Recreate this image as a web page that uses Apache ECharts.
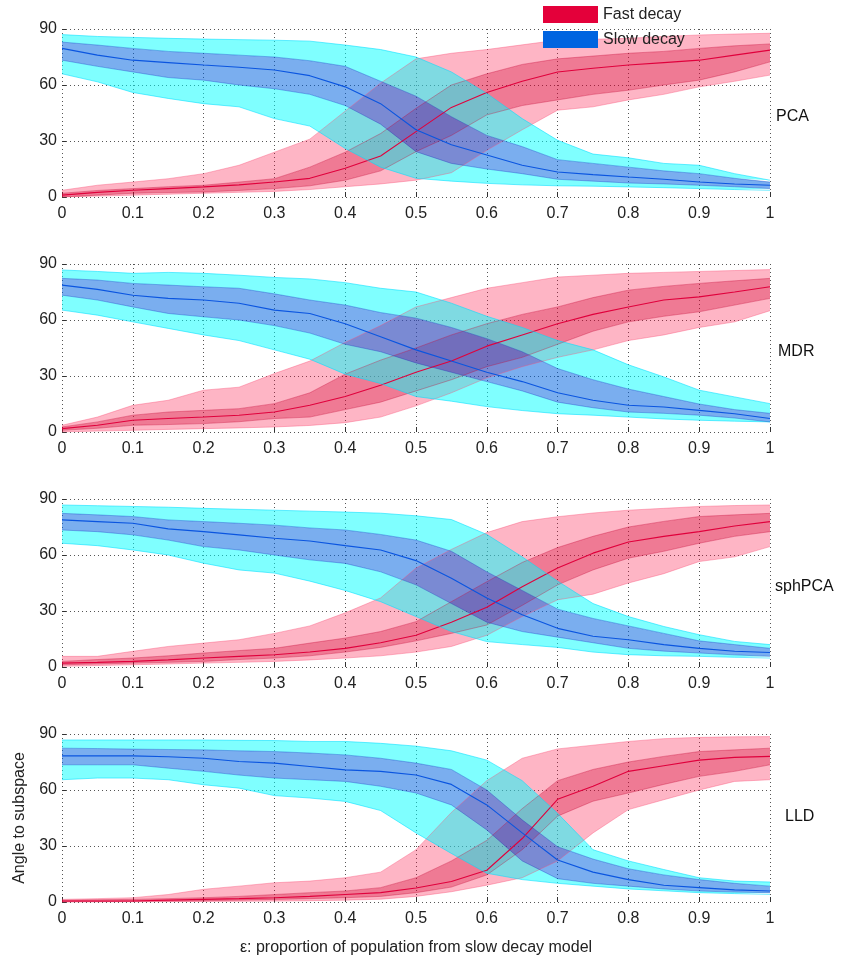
<!DOCTYPE html>
<html>
<head>
<meta charset="utf-8">
<title>Angle to subspace</title>
<script src="https://cdn.jsdelivr.net/npm/echarts@6.0.0/dist/echarts.min.js"></script>
<style>
  html, body { margin: 0; padding: 0; background: #fff; }
  #chart { width: 841px; height: 960px; }
</style>
</head>
<body>
<div id="chart"></div>
<script>
// ε: proportion of population from slow decay model
const epsilon = ['0', '0.05', '0.1', '0.15', '0.2', '0.25', '0.3', '0.35', '0.4', '0.45', '0.5',
  '0.55', '0.6', '0.65', '0.7', '0.75', '0.8', '0.85', '0.9', '0.95', '1'];
const yTicks = [0, 30, 60, 90];
const panelNames = ['PCA', 'MDR', 'sphPCA', 'LLD'];
const seriesNames = ['Fast decay', 'Slow decay'];

// PCA
const pcaFastOuterHi = [3.6, 6.3, 8, 9.8, 12.5, 17, 24, 31, 46, 61, 74, 77, 79, 81.5, 84, 84.5, 85, 86, 86.8, 87.3, 87.7];
const pcaFastInnerHi = [2, 3.5, 4.5, 5.5, 6.3, 8, 9.8, 16, 24, 34, 47.5, 60, 66, 71, 74, 75.5, 77, 78, 79.6, 81, 82];
const pcaFastMedian = [1, 2.5, 3.6, 4.5, 5.4, 6.5, 8, 10, 15.4, 22, 35, 48, 56, 62, 67, 69, 70.7, 72, 73.3, 76, 78.7];
const pcaFastInnerLo = [0, 1, 2, 2.4, 2.7, 3.5, 4.5, 6, 9, 14, 24.3, 33, 44, 49, 52, 55, 57.2, 60, 62.6, 67, 72.4];
const pcaFastOuterLo = [0, 0.5, 1, 1.5, 2, 2.5, 3, 4, 5.5, 7, 9, 13, 25, 36, 46.5, 48.3, 52, 55, 59, 62, 65.3];
const pcaSlowOuterHi = [87, 86, 85.5, 85, 84.6, 84.3, 84, 83.5, 81.4, 79, 75, 67, 55.5, 42, 30.4, 23, 21, 18, 17, 12.5, 9];
const pcaSlowInnerHi = [83, 81.4, 79.6, 78, 77, 76, 75, 73, 70, 62, 54, 43, 33, 27, 20, 18, 16, 14, 12.5, 10, 8];
const pcaSlowMedian = [79.6, 76, 73.3, 72, 70.7, 69.5, 68, 65, 59, 50, 36, 28, 22.5, 17, 13.4, 12, 10.7, 9.5, 8, 7, 6.3];
const pcaSlowInnerLo = [73.3, 70, 67, 64, 62.6, 60, 58, 55, 49, 39, 24.3, 18, 15, 12.5, 9.5, 8.5, 7.5, 7, 6.3, 5.5, 4.5];
const pcaSlowOuterLo = [66, 61.7, 56, 52.8, 50, 48.3, 42, 38, 26, 16, 10, 8.5, 7.3, 6.5, 6, 5.8, 5.4, 5, 4.5, 4, 3.6];

// MDR
const mdrFastOuterHi = [3.6, 8, 14.3, 17, 22.4, 24, 31.3, 38, 48, 57, 67, 72, 77, 80, 83, 84, 85, 85.5, 86, 86.5, 87];
const mdrFastInnerHi = [2.7, 5.4, 9, 10.7, 11.6, 12.5, 15.2, 21, 31, 38.5, 45, 52, 58, 63, 67, 72, 76, 78, 79.6, 81, 82.3];
const mdrFastMedian = [1.8, 3.6, 6.3, 7.2, 8, 9, 10.7, 14.3, 19, 25, 32, 38, 46, 52, 58, 63, 67, 70.7, 72.4, 75, 77.8];
const mdrFastInnerLo = [0.9, 2, 3.6, 4, 4.5, 5.5, 7.2, 8, 12, 16, 22, 28, 35, 40, 47, 54, 59, 62, 64.4, 68, 71.6];
const mdrFastOuterLo = [0, 0.5, 0.9, 1.4, 1.8, 2.2, 2.7, 3.5, 5, 8, 14, 21, 29, 35, 40, 44, 49, 52, 56, 59, 65];
const mdrSlowOuterHi = [86.8, 86, 85, 85.5, 85, 84, 82.8, 82, 80, 77, 75, 69, 62, 56, 49, 44, 36, 29.5, 22.4, 18.8, 15.2];
const mdrSlowInnerHi = [82.3, 81.4, 79.6, 78.7, 77.8, 77, 74, 70.7, 68, 64, 61, 56, 50, 43, 34, 28, 23, 19, 15, 12, 10];
const mdrSlowMedian = [78.7, 76.4, 73.3, 71.6, 70.7, 69, 65.3, 63.5, 58, 51, 44, 38, 32, 27, 21, 17, 14.3, 13.4, 11.6, 9.8, 7.2];
const mdrSlowInnerLo = [73.3, 70.7, 67, 63.5, 61.7, 60, 57, 53, 47, 43, 37, 32, 27, 22, 16, 13, 10.7, 10, 9, 7.5, 5.4];
const mdrSlowOuterLo = [65.3, 62.6, 59, 55.5, 52, 49, 44, 39, 31, 26, 19, 16.5, 13.6, 11.5, 9.8, 9, 8, 7, 6.3, 5.8, 5.4];

// sphPCA
const sphFastOuterHi = [5.7, 5.7, 8.4, 11, 12.8, 14.6, 18, 22, 29, 37, 53, 63, 72, 77.9, 80.5, 82.5, 84, 85, 86, 86.5, 86.8];
const sphFastInnerHi = [3, 4, 4.8, 6, 7.5, 8.8, 10, 12.8, 15.5, 19, 24.3, 35, 45.7, 56, 64, 70, 75, 78, 80.6, 81.5, 82.3];
const sphFastMedian = [2.1, 2.5, 3, 3.8, 4.8, 5.7, 6.6, 8, 10, 13, 17, 24, 32, 43, 53, 61, 67, 70, 72.5, 75.5, 77.9];
const sphFastInnerLo = [1.2, 1.6, 2.1, 2.5, 3, 4, 4.8, 6, 8, 10.5, 14, 18, 22.5, 33, 44, 52, 58.3, 62, 66.3, 70, 72.5];
const sphFastOuterLo = [0.4, 0.8, 1.2, 1.6, 2.1, 2.5, 3, 3.8, 4.8, 6, 8, 11, 17, 27, 36, 39, 45, 50, 56.5, 59, 64.5];
const sphSlowOuterHi = [86.8, 86.4, 86, 85.6, 85, 84.5, 84, 83.5, 83, 82.4, 81, 79, 71, 59, 46, 34, 27, 21.7, 17.3, 13.7, 12];
const sphSlowInnerHi = [82.3, 81.5, 80.6, 78.8, 77.9, 77, 76, 74.5, 73.4, 71, 68, 62, 51, 41, 31, 26, 22, 18, 14, 12, 10];
const sphSlowMedian = [78.8, 77.9, 77, 74, 72.5, 70.8, 69, 67.5, 65, 62.7, 57, 47.5, 37, 28, 20.7, 16.5, 14.6, 12, 10, 8.4, 7.8];
const sphSlowInnerLo = [73.4, 72.5, 70.8, 68, 64.5, 62.7, 60, 57.4, 55.5, 51, 44, 34, 24, 19, 16, 13, 10, 8.5, 7.5, 6.5, 5.7];
const sphSlowOuterLo = [66.3, 65, 62.7, 60, 55.6, 52, 50.3, 46, 41, 35, 27, 19, 13.6, 12, 10.5, 8, 6.6, 6, 5.7, 5.2, 4.8];

// LLD
const lldFastOuterHi = [1.4, 1.8, 2.3, 4, 6.8, 8.5, 10.3, 11.2, 13, 16, 28, 48, 65, 77, 82, 84, 86, 87.5, 88.2, 88.5, 88.6];
const lldFastInnerHi = [1, 1.2, 1.4, 1.8, 2.3, 3, 4, 5, 5.9, 7.7, 13, 22, 33, 50, 65, 71, 75, 78, 80.6, 81.5, 82.4];
const lldFastMedian = [0.5, 0.5, 0.5, 1, 1.4, 1.8, 2.3, 3, 4, 5, 7.5, 11, 17, 34, 55, 62, 70, 73, 76, 77.5, 78];
const lldFastInnerLo = [0, 0.2, 0.4, 0.5, 0.7, 1, 1.4, 1.8, 2.3, 3, 5, 8, 14.5, 28, 46, 54, 58.4, 63, 67.3, 70, 73.5];
const lldFastOuterLo = [0, 0, 0.1, 0.2, 0.3, 0.4, 0.5, 0.7, 1, 1.5, 3, 5.5, 9, 13, 22, 37, 49.5, 54.8, 60, 64.6, 65.5];
const lldSlowOuterHi = [86.8, 86.8, 86.8, 86.8, 86.8, 86.6, 86.5, 86, 86, 85, 83.5, 81, 76, 65, 47.5, 28, 22, 17.4, 13, 11.2, 10.7];
const lldSlowInnerHi = [82.4, 82.2, 81.9, 81.7, 81.5, 81, 80.6, 79.8, 78.8, 77, 74.4, 71, 60, 44, 29.6, 23, 17.8, 14.5, 12, 10, 8.5];
const lldSlowMedian = [78.3, 78.3, 78.3, 77.8, 77, 75.3, 74.4, 72.6, 70.8, 70, 68, 63, 52, 37, 22.5, 16, 12, 9, 7.7, 6.5, 5.9];
const lldSlowInnerLo = [73.5, 73.5, 73.5, 71.7, 70, 68, 66.4, 65.5, 64.6, 62, 58.4, 52, 38.6, 22, 12.5, 10, 8.5, 7, 5.9, 5.3, 5];
const lldSlowOuterLo = [65.5, 66.4, 66.4, 65.5, 62.8, 61, 57, 55.7, 53.9, 49, 37, 26, 15.4, 12, 10, 8.5, 7, 6, 5, 4.5, 4.1];

const panels = [
  { fast: [pcaFastOuterLo, pcaFastInnerLo, pcaFastMedian, pcaFastInnerHi, pcaFastOuterHi],
    slow: [pcaSlowOuterLo, pcaSlowInnerLo, pcaSlowMedian, pcaSlowInnerHi, pcaSlowOuterHi] },
  { fast: [mdrFastOuterLo, mdrFastInnerLo, mdrFastMedian, mdrFastInnerHi, mdrFastOuterHi],
    slow: [mdrSlowOuterLo, mdrSlowInnerLo, mdrSlowMedian, mdrSlowInnerHi, mdrSlowOuterHi] },
  { fast: [sphFastOuterLo, sphFastInnerLo, sphFastMedian, sphFastInnerHi, sphFastOuterHi],
    slow: [sphSlowOuterLo, sphSlowInnerLo, sphSlowMedian, sphSlowInnerHi, sphSlowOuterHi] },
  { fast: [lldFastOuterLo, lldFastInnerLo, lldFastMedian, lldFastInnerHi, lldFastOuterHi],
    slow: [lldSlowOuterLo, lldSlowInnerLo, lldSlowMedian, lldSlowInnerHi, lldSlowOuterHi] }
];

const FONT = "'Liberation Sans', Arial, sans-serif";
const gridTops = [29, 264, 499, 734];
const labelPos = [[776, 117], [778, 352], [775, 587], [785, 817]];

const palette = {
  fast: {
    line: '#E0003C',
    legend: '#E4003A',
    outer: 'rgba(250, 0, 55, 0.29)',
    inner: 'rgba(225, 0, 50, 0.52)',
    outerEdge: 'rgba(250, 80, 120, 0.5)',
    innerEdge: 'rgba(200, 0, 50, 0.45)'
  },
  slow: {
    line: '#0A55E0',
    legend: '#0064E0',
    outer: 'rgba(0, 255, 255, 0.5)',
    inner: 'rgba(0, 100, 224, 0.52)',
    outerEdge: 'rgba(0, 220, 255, 0.7)',
    innerEdge: 'rgba(0, 60, 200, 0.45)'
  }
};

// band strips are stacked on top of the lower outer bound
function gap(top, bottom) {
  return top.map((v, i) => Math.max(0, +(v - bottom[i]).toFixed(2)));
}

function groupSeries(idx, key, name) {
  const [lo, inLo, med, inHi, hi] = panels[idx][key];
  const c = palette[key];
  const base = {
    type: 'line', xAxisIndex: idx, yAxisIndex: idx, stack: key + idx,
    symbol: 'none', silent: true, animation: false
  };
  return [
    Object.assign({}, base, { data: lo, lineStyle: { color: c.outerEdge, width: 0.8 } }),
    Object.assign({}, base, { data: gap(inLo, lo), areaStyle: { color: c.outer, opacity: 1 },
      lineStyle: { color: c.innerEdge, width: 0.8 } }),
    Object.assign({}, base, { data: gap(inHi, inLo), areaStyle: { color: c.inner, opacity: 1 },
      lineStyle: { color: c.innerEdge, width: 0.8 } }),
    Object.assign({}, base, { data: gap(hi, inHi), areaStyle: { color: c.outer, opacity: 1 },
      lineStyle: { color: c.outerEdge, width: 0.8 } }),
    {
      type: 'line', name: name, xAxisIndex: idx, yAxisIndex: idx, data: med,
      symbol: 'none', silent: true, animation: false,
      itemStyle: { color: c.legend },
      lineStyle: { color: c.line, width: 1.1 }
    }
  ];
}

const grid = [], xAxis = [], yAxis = [], series = [], graphic = [];
const dotted = { color: '#555', type: [1, 3], width: 1 };

panelNames.forEach((pname, i) => {
  const last = i === panelNames.length - 1;
  grid.push({ left: 62, width: 708, top: gridTops[i], height: 168 });
  xAxis.push({
    type: 'category', gridIndex: i, data: epsilon, boundaryGap: false,
    axisLine: { show: false },
    axisTick: { show: true, inside: true, length: 5, interval: 1, lineStyle: { color: '#333' } },
    axisLabel: { interval: 1, margin: 9, fontSize: 16, color: '#222', fontFamily: FONT },
    splitLine: { show: true, interval: 1, lineStyle: dotted },
    name: last ? 'ε: proportion of population from slow decay model' : '',
    nameLocation: 'middle', nameGap: 38,
    nameTextStyle: { fontSize: 16, color: '#222', fontFamily: FONT }
  });
  yAxis.push({
    type: 'value', gridIndex: i, min: yTicks[0], max: yTicks[yTicks.length - 1], interval: 30,
    axisLine: { show: false },
    axisTick: { show: true, inside: true, length: 4, lineStyle: { color: '#333' } },
    axisLabel: { margin: 5, fontSize: 16, color: '#222', fontFamily: FONT },
    splitLine: { show: true, lineStyle: dotted },
    name: last ? 'Angle to subspace' : '',
    nameLocation: 'middle', nameGap: 34,
    nameTextStyle: { fontSize: 16, color: '#222', fontFamily: FONT }
  });
  series.push(...groupSeries(i, 'fast', seriesNames[0]));
  series.push(...groupSeries(i, 'slow', seriesNames[1]));
  graphic.push({
    type: 'text', x: labelPos[i][0], y: labelPos[i][1],
    style: { text: pname, font: '16px ' + FONT, fill: '#111', verticalAlign: 'middle' }
  });
});

const chart = echarts.init(document.getElementById('chart'), null, { renderer: 'canvas' });
chart.setOption({
  backgroundColor: '#fff',
  animation: false,
  grid: grid,
  xAxis: xAxis,
  yAxis: yAxis,
  legend: {
    orient: 'vertical', left: 543, top: 6, padding: 0,
    itemWidth: 55, itemHeight: 17, itemGap: 8,
    textStyle: { fontSize: 16, color: '#222', fontFamily: FONT },
    selectedMode: false,
    data: [
      { name: seriesNames[0], icon: 'rect', itemStyle: { color: palette.fast.legend, borderWidth: 0 } },
      { name: seriesNames[1], icon: 'rect', itemStyle: { color: palette.slow.legend, borderWidth: 0 } }
    ]
  },
  graphic: graphic,
  series: series
});
</script>
</body>
</html>
